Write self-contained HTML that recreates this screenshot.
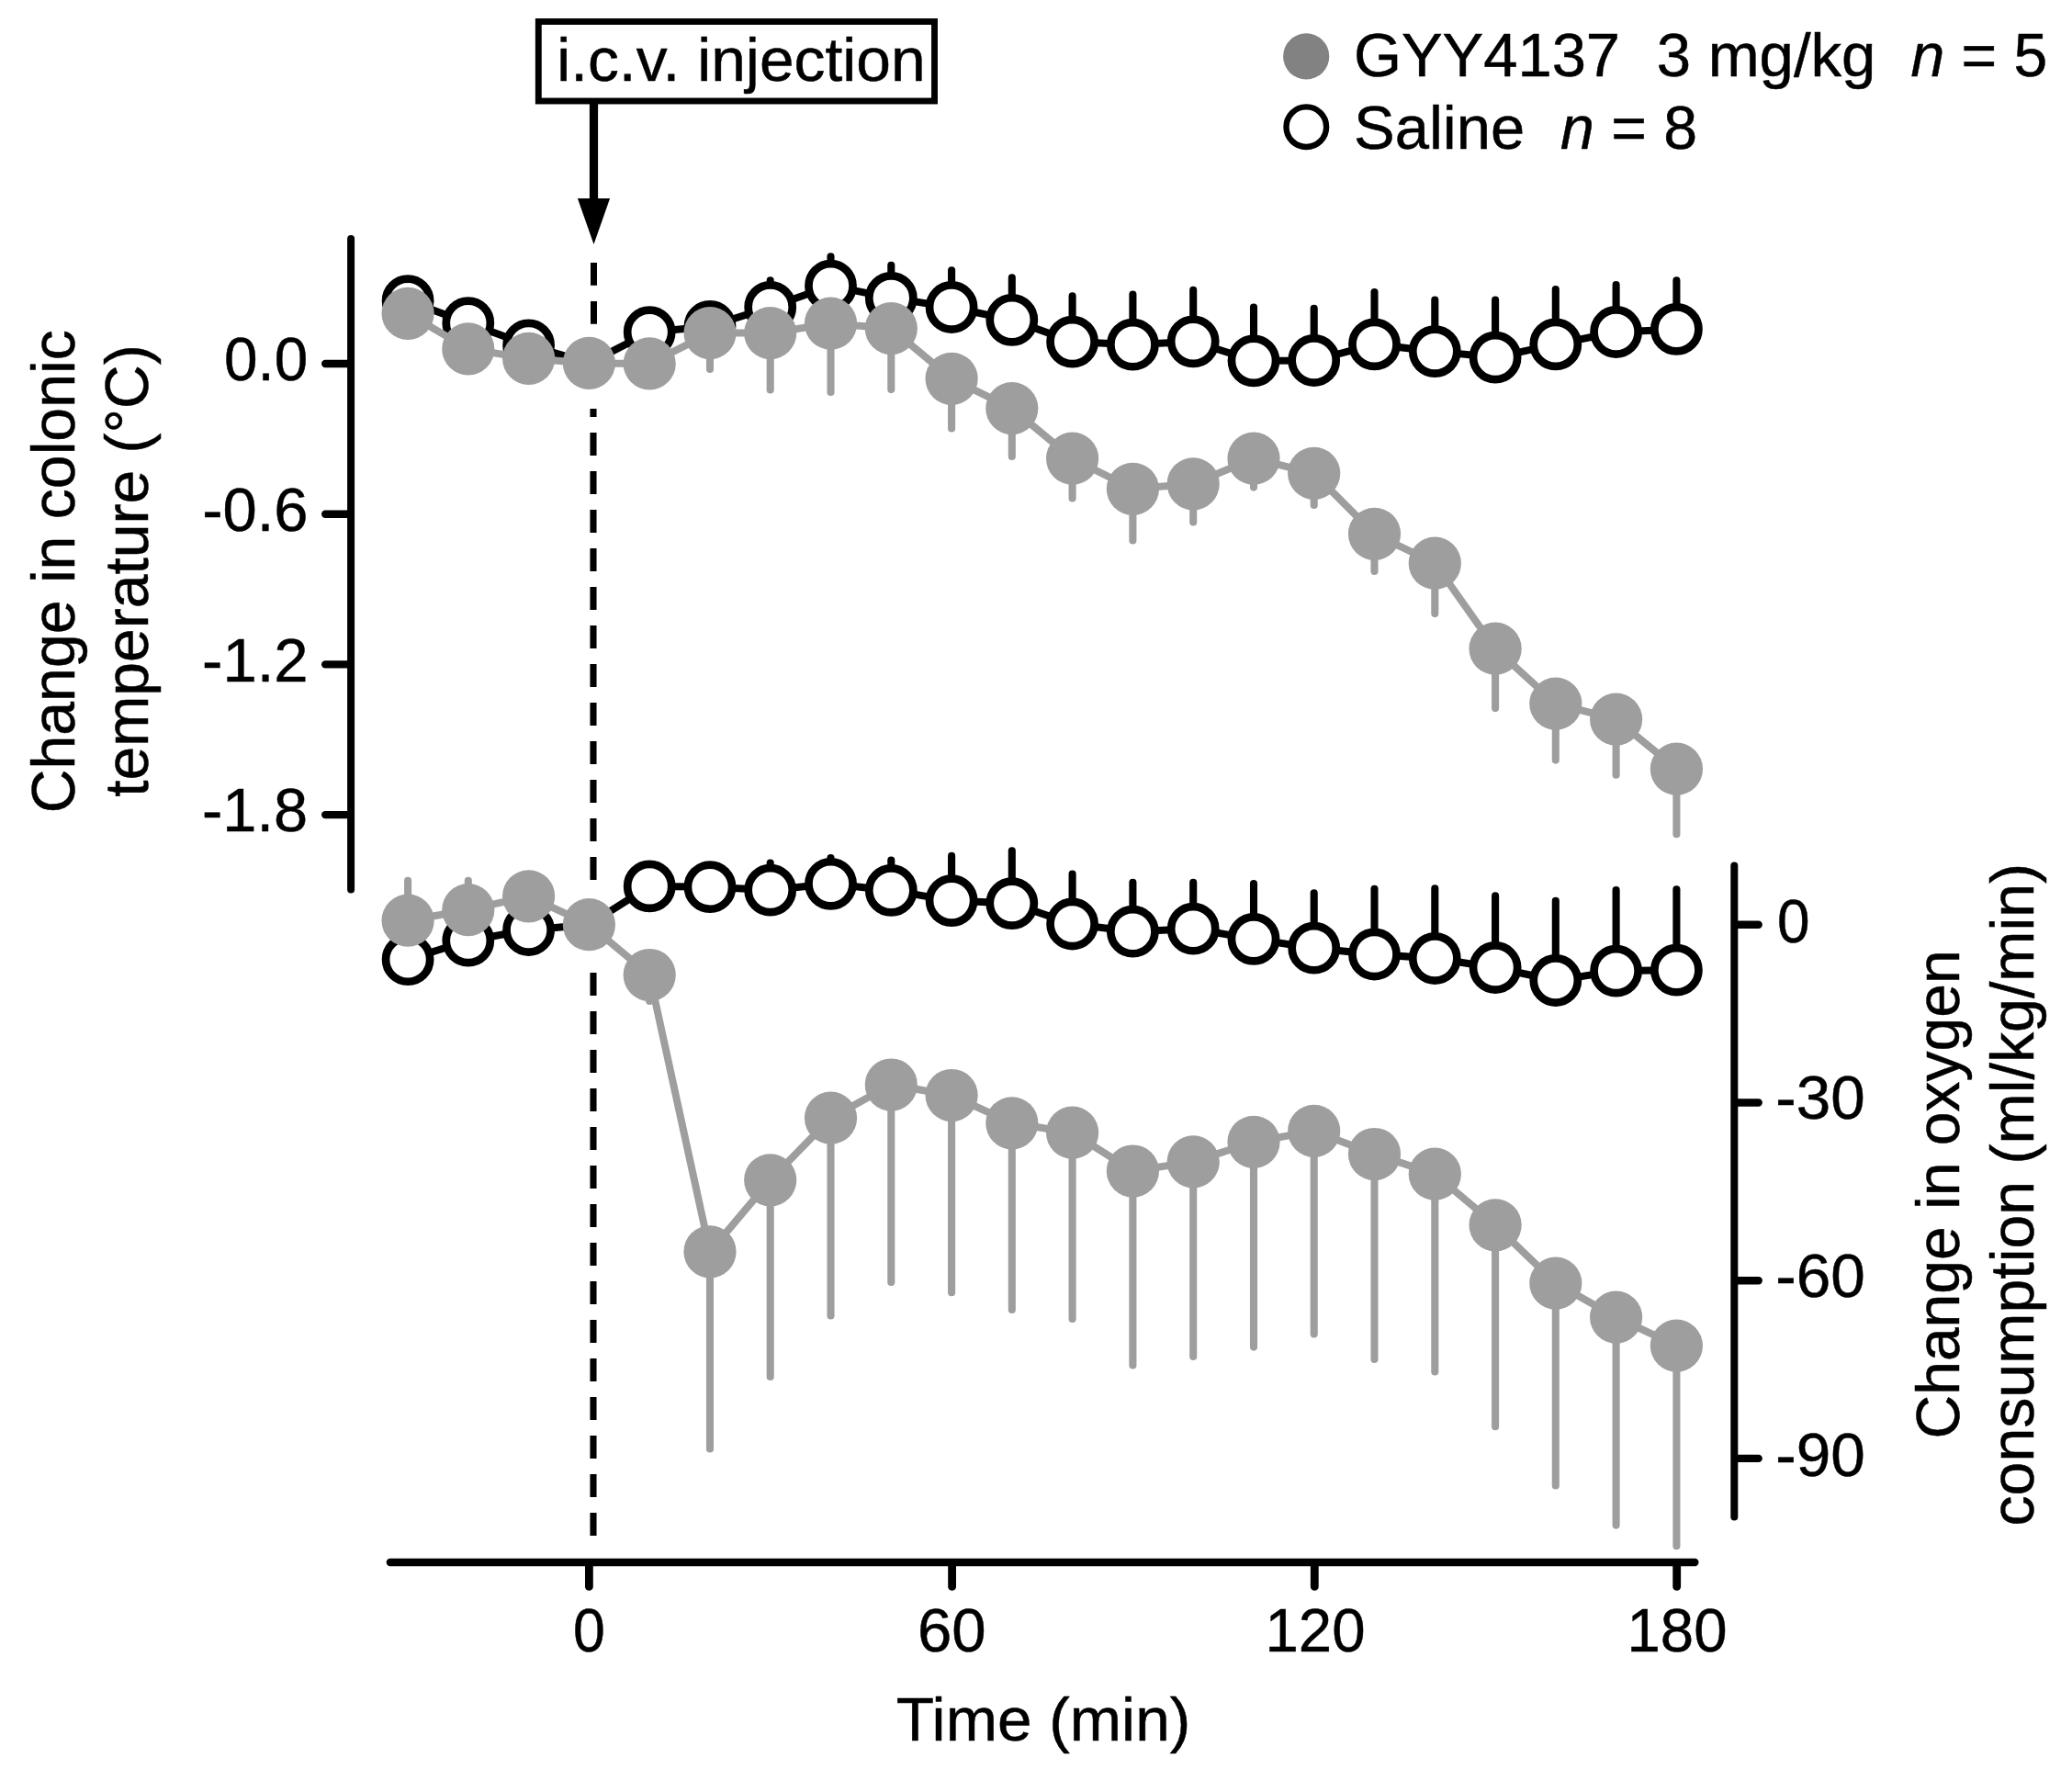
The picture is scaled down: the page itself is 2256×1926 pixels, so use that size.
<!DOCTYPE html>
<html lang="en"><head><meta charset="utf-8"><title>Figure</title>
<style>
html,body{margin:0;padding:0;background:#fff}
body{width:2256px;height:1926px;overflow:hidden}
svg{display:block}
text{font-family:"Liberation Sans",sans-serif;font-size:66.5px;fill:#000;stroke:#000;stroke-width:0.5px}
</style></head><body>
<svg width="2256" height="1926" viewBox="0 0 2256 1926">
<rect width="2256" height="1926" fill="#fff"/>
<line x1="646.5" y1="286" x2="646.5" y2="395" stroke="#000" stroke-width="7.0" stroke-dasharray="24.8 17.2"/>
<line x1="646.0" y1="1671.9" x2="646.0" y2="1058.5" stroke="#000" stroke-width="7.1" stroke-dasharray="25 17"/>
<line x1="646.0" y1="957.9" x2="646.0" y2="444.9" stroke="#000" stroke-width="7.1" stroke-dasharray="25 17"/>
<g stroke="#000" stroke-width="8.0" stroke-linecap="round" fill="none">
<line x1="382.1" y1="259.9" x2="382.1" y2="968.4"/>
<line x1="1888.3" y1="942.6" x2="1888.3" y2="1651.4"/>
<line x1="424.8" y1="1701" x2="1845.4" y2="1701" stroke-width="8.3"/>
</g><g stroke="#000" stroke-width="8.4" stroke-linecap="round" fill="none">
<line x1="354.2" y1="396.0" x2="381.0" y2="396.0"/>
<line x1="354.2" y1="559.7" x2="381.0" y2="559.7"/>
<line x1="354.2" y1="723.4" x2="381.0" y2="723.4"/>
<line x1="354.2" y1="887.1" x2="381.0" y2="887.1"/>
<line x1="1889.4" y1="1006.8" x2="1914.7" y2="1006.8"/>
<line x1="1889.4" y1="1200.5" x2="1914.7" y2="1200.5"/>
<line x1="1889.4" y1="1394.2" x2="1914.7" y2="1394.2"/>
<line x1="1889.4" y1="1587.9" x2="1914.7" y2="1587.9"/>
<line x1="641.4" y1="1702.2" x2="641.4" y2="1727.4" stroke-width="8.8"/>
<line x1="1036.6" y1="1702.2" x2="1036.6" y2="1727.4" stroke-width="8.8"/>
<line x1="1431.3" y1="1702.2" x2="1431.3" y2="1727.4" stroke-width="8.8"/>
<line x1="1825.7" y1="1702.2" x2="1825.7" y2="1727.4" stroke-width="8.8"/>
</g>
<line x1="838.7" y1="334.4" x2="838.7" y2="305.4" stroke="#000" stroke-width="8.1" stroke-linecap="round"/>
<line x1="904.5" y1="311.2" x2="904.5" y2="279.3" stroke="#000" stroke-width="8.1" stroke-linecap="round"/>
<line x1="970.3" y1="324.4" x2="970.3" y2="288.8" stroke="#000" stroke-width="8.1" stroke-linecap="round"/>
<line x1="1036.1" y1="334.5" x2="1036.1" y2="294.3" stroke="#000" stroke-width="8.1" stroke-linecap="round"/>
<line x1="1101.8" y1="348.3" x2="1101.8" y2="302.4" stroke="#000" stroke-width="8.1" stroke-linecap="round"/>
<line x1="1167.6" y1="372.1" x2="1167.6" y2="322.4" stroke="#000" stroke-width="8.1" stroke-linecap="round"/>
<line x1="1233.4" y1="375.2" x2="1233.4" y2="320.6" stroke="#000" stroke-width="8.1" stroke-linecap="round"/>
<line x1="1299.2" y1="371.8" x2="1299.2" y2="315.9" stroke="#000" stroke-width="8.1" stroke-linecap="round"/>
<line x1="1365.0" y1="392.8" x2="1365.0" y2="334.6" stroke="#000" stroke-width="8.1" stroke-linecap="round"/>
<line x1="1430.7" y1="392.5" x2="1430.7" y2="335.8" stroke="#000" stroke-width="8.1" stroke-linecap="round"/>
<line x1="1496.5" y1="374.9" x2="1496.5" y2="318.1" stroke="#000" stroke-width="8.1" stroke-linecap="round"/>
<line x1="1562.3" y1="382.6" x2="1562.3" y2="326.5" stroke="#000" stroke-width="8.1" stroke-linecap="round"/>
<line x1="1628.1" y1="389.1" x2="1628.1" y2="326.5" stroke="#000" stroke-width="8.1" stroke-linecap="round"/>
<line x1="1693.8" y1="374.9" x2="1693.8" y2="315.0" stroke="#000" stroke-width="8.1" stroke-linecap="round"/>
<line x1="1759.6" y1="361.5" x2="1759.6" y2="310.0" stroke="#000" stroke-width="8.1" stroke-linecap="round"/>
<line x1="1825.4" y1="358.4" x2="1825.4" y2="305.4" stroke="#000" stroke-width="8.1" stroke-linecap="round"/>
<polyline points="444.1,327.6 509.8,351.7 575.6,375.9 641.4,395.4 707.2,361.6 773.0,355.3 838.7,334.4 904.5,311.2 970.3,324.4 1036.1,334.5 1101.8,348.3 1167.6,372.1 1233.4,375.2 1299.2,371.8 1365.0,392.8 1430.7,392.5 1496.5,374.9 1562.3,382.6 1628.1,389.1 1693.8,374.9 1759.6,361.5 1825.4,358.4" fill="none" stroke="#000" stroke-width="8.0" stroke-linejoin="round"/>
<circle cx="444.1" cy="327.6" r="24.05" fill="#fff" stroke="#000" stroke-width="8.7"/>
<circle cx="509.8" cy="351.7" r="24.05" fill="#fff" stroke="#000" stroke-width="8.7"/>
<circle cx="575.6" cy="375.9" r="24.05" fill="#fff" stroke="#000" stroke-width="8.7"/>
<circle cx="707.2" cy="361.6" r="24.05" fill="#fff" stroke="#000" stroke-width="8.7"/>
<circle cx="773.0" cy="355.3" r="24.05" fill="#fff" stroke="#000" stroke-width="8.7"/>
<circle cx="838.7" cy="334.4" r="24.05" fill="#fff" stroke="#000" stroke-width="8.7"/>
<circle cx="904.5" cy="311.2" r="24.05" fill="#fff" stroke="#000" stroke-width="8.7"/>
<circle cx="970.3" cy="324.4" r="24.05" fill="#fff" stroke="#000" stroke-width="8.7"/>
<circle cx="1036.1" cy="334.5" r="24.05" fill="#fff" stroke="#000" stroke-width="8.7"/>
<circle cx="1101.8" cy="348.3" r="24.05" fill="#fff" stroke="#000" stroke-width="8.7"/>
<circle cx="1167.6" cy="372.1" r="24.05" fill="#fff" stroke="#000" stroke-width="8.7"/>
<circle cx="1233.4" cy="375.2" r="24.05" fill="#fff" stroke="#000" stroke-width="8.7"/>
<circle cx="1299.2" cy="371.8" r="24.05" fill="#fff" stroke="#000" stroke-width="8.7"/>
<circle cx="1365.0" cy="392.8" r="24.05" fill="#fff" stroke="#000" stroke-width="8.7"/>
<circle cx="1430.7" cy="392.5" r="24.05" fill="#fff" stroke="#000" stroke-width="8.7"/>
<circle cx="1496.5" cy="374.9" r="24.05" fill="#fff" stroke="#000" stroke-width="8.7"/>
<circle cx="1562.3" cy="382.6" r="24.05" fill="#fff" stroke="#000" stroke-width="8.7"/>
<circle cx="1628.1" cy="389.1" r="24.05" fill="#fff" stroke="#000" stroke-width="8.7"/>
<circle cx="1693.8" cy="374.9" r="24.05" fill="#fff" stroke="#000" stroke-width="8.7"/>
<circle cx="1759.6" cy="361.5" r="24.05" fill="#fff" stroke="#000" stroke-width="8.7"/>
<circle cx="1825.4" cy="358.4" r="24.05" fill="#fff" stroke="#000" stroke-width="8.7"/>
<line x1="773.0" y1="362.6" x2="773.0" y2="401.9" stroke="#9e9e9e" stroke-width="8.1" stroke-linecap="round"/>
<line x1="838.7" y1="362.6" x2="838.7" y2="424.4" stroke="#9e9e9e" stroke-width="8.1" stroke-linecap="round"/>
<line x1="904.5" y1="352.2" x2="904.5" y2="426.9" stroke="#9e9e9e" stroke-width="8.1" stroke-linecap="round"/>
<line x1="970.3" y1="357.6" x2="970.3" y2="424.1" stroke="#9e9e9e" stroke-width="8.1" stroke-linecap="round"/>
<line x1="1036.1" y1="412.3" x2="1036.1" y2="466.5" stroke="#9e9e9e" stroke-width="8.1" stroke-linecap="round"/>
<line x1="1101.8" y1="444.6" x2="1101.8" y2="496.9" stroke="#9e9e9e" stroke-width="8.1" stroke-linecap="round"/>
<line x1="1167.6" y1="499.2" x2="1167.6" y2="542.4" stroke="#9e9e9e" stroke-width="8.1" stroke-linecap="round"/>
<line x1="1233.4" y1="532.3" x2="1233.4" y2="588.4" stroke="#9e9e9e" stroke-width="8.1" stroke-linecap="round"/>
<line x1="1299.2" y1="526.8" x2="1299.2" y2="568.4" stroke="#9e9e9e" stroke-width="8.1" stroke-linecap="round"/>
<line x1="1365.0" y1="499.2" x2="1365.0" y2="530.6" stroke="#9e9e9e" stroke-width="8.1" stroke-linecap="round"/>
<line x1="1430.7" y1="515.4" x2="1430.7" y2="550.0" stroke="#9e9e9e" stroke-width="8.1" stroke-linecap="round"/>
<line x1="1496.5" y1="581.3" x2="1496.5" y2="622.0" stroke="#9e9e9e" stroke-width="8.1" stroke-linecap="round"/>
<line x1="1562.3" y1="613.2" x2="1562.3" y2="668.1" stroke="#9e9e9e" stroke-width="8.1" stroke-linecap="round"/>
<line x1="1628.1" y1="706.2" x2="1628.1" y2="771.1" stroke="#9e9e9e" stroke-width="8.1" stroke-linecap="round"/>
<line x1="1693.8" y1="766.1" x2="1693.8" y2="827.6" stroke="#9e9e9e" stroke-width="8.1" stroke-linecap="round"/>
<line x1="1759.6" y1="783.1" x2="1759.6" y2="843.8" stroke="#9e9e9e" stroke-width="8.1" stroke-linecap="round"/>
<line x1="1825.4" y1="837.2" x2="1825.4" y2="908.2" stroke="#9e9e9e" stroke-width="8.1" stroke-linecap="round"/>
<polyline points="444.1,341.3 509.8,379.9 575.6,390.3 641.4,395.4 707.2,395.9 773.0,362.6 838.7,362.6 904.5,352.2 970.3,357.6 1036.1,412.3 1101.8,444.6 1167.6,499.2 1233.4,532.3 1299.2,526.8 1365.0,499.2 1430.7,515.4 1496.5,581.3 1562.3,613.2 1628.1,706.2 1693.8,766.1 1759.6,783.1 1825.4,837.2" fill="none" stroke="#9e9e9e" stroke-width="8.0" stroke-linejoin="round"/>
<circle cx="444.1" cy="341.3" r="28.6" fill="#9e9e9e"/>
<circle cx="509.8" cy="379.9" r="28.6" fill="#9e9e9e"/>
<circle cx="575.6" cy="390.3" r="28.6" fill="#9e9e9e"/>
<circle cx="641.4" cy="395.4" r="28.6" fill="#9e9e9e"/>
<circle cx="707.2" cy="395.9" r="28.6" fill="#9e9e9e"/>
<circle cx="773.0" cy="362.6" r="28.6" fill="#9e9e9e"/>
<circle cx="838.7" cy="362.6" r="28.6" fill="#9e9e9e"/>
<circle cx="904.5" cy="352.2" r="28.6" fill="#9e9e9e"/>
<circle cx="970.3" cy="357.6" r="28.6" fill="#9e9e9e"/>
<circle cx="1036.1" cy="412.3" r="28.6" fill="#9e9e9e"/>
<circle cx="1101.8" cy="444.6" r="28.6" fill="#9e9e9e"/>
<circle cx="1167.6" cy="499.2" r="28.6" fill="#9e9e9e"/>
<circle cx="1233.4" cy="532.3" r="28.6" fill="#9e9e9e"/>
<circle cx="1299.2" cy="526.8" r="28.6" fill="#9e9e9e"/>
<circle cx="1365.0" cy="499.2" r="28.6" fill="#9e9e9e"/>
<circle cx="1430.7" cy="515.4" r="28.6" fill="#9e9e9e"/>
<circle cx="1496.5" cy="581.3" r="28.6" fill="#9e9e9e"/>
<circle cx="1562.3" cy="613.2" r="28.6" fill="#9e9e9e"/>
<circle cx="1628.1" cy="706.2" r="28.6" fill="#9e9e9e"/>
<circle cx="1693.8" cy="766.1" r="28.6" fill="#9e9e9e"/>
<circle cx="1759.6" cy="783.1" r="28.6" fill="#9e9e9e"/>
<circle cx="1825.4" cy="837.2" r="28.6" fill="#9e9e9e"/>
<line x1="838.7" y1="969.1" x2="838.7" y2="939.6" stroke="#000" stroke-width="8.1" stroke-linecap="round"/>
<line x1="904.5" y1="962.3" x2="904.5" y2="934.1" stroke="#000" stroke-width="8.1" stroke-linecap="round"/>
<line x1="970.3" y1="969.4" x2="970.3" y2="936.6" stroke="#000" stroke-width="8.1" stroke-linecap="round"/>
<line x1="1036.1" y1="980.6" x2="1036.1" y2="931.9" stroke="#000" stroke-width="8.1" stroke-linecap="round"/>
<line x1="1101.8" y1="983.6" x2="1101.8" y2="926.2" stroke="#000" stroke-width="8.1" stroke-linecap="round"/>
<line x1="1167.6" y1="1006.0" x2="1167.6" y2="951.6" stroke="#000" stroke-width="8.1" stroke-linecap="round"/>
<line x1="1233.4" y1="1014.2" x2="1233.4" y2="960.9" stroke="#000" stroke-width="8.1" stroke-linecap="round"/>
<line x1="1299.2" y1="1011.2" x2="1299.2" y2="960.9" stroke="#000" stroke-width="8.1" stroke-linecap="round"/>
<line x1="1365.0" y1="1022.4" x2="1365.0" y2="962.1" stroke="#000" stroke-width="8.1" stroke-linecap="round"/>
<line x1="1430.7" y1="1032.2" x2="1430.7" y2="972.2" stroke="#000" stroke-width="8.1" stroke-linecap="round"/>
<line x1="1496.5" y1="1039.0" x2="1496.5" y2="967.8" stroke="#000" stroke-width="8.1" stroke-linecap="round"/>
<line x1="1562.3" y1="1043.5" x2="1562.3" y2="967.4" stroke="#000" stroke-width="8.1" stroke-linecap="round"/>
<line x1="1628.1" y1="1053.5" x2="1628.1" y2="975.4" stroke="#000" stroke-width="8.1" stroke-linecap="round"/>
<line x1="1693.8" y1="1067.5" x2="1693.8" y2="980.9" stroke="#000" stroke-width="8.1" stroke-linecap="round"/>
<line x1="1759.6" y1="1057.1" x2="1759.6" y2="969.1" stroke="#000" stroke-width="8.1" stroke-linecap="round"/>
<line x1="1825.4" y1="1056.2" x2="1825.4" y2="968.2" stroke="#000" stroke-width="8.1" stroke-linecap="round"/>
<polyline points="444.1,1044.7 509.8,1024.1 575.6,1012.5 641.4,1006.7 707.2,964.9 773.0,965.7 838.7,969.1 904.5,962.3 970.3,969.4 1036.1,980.6 1101.8,983.6 1167.6,1006.0 1233.4,1014.2 1299.2,1011.2 1365.0,1022.4 1430.7,1032.2 1496.5,1039.0 1562.3,1043.5 1628.1,1053.5 1693.8,1067.5 1759.6,1057.1 1825.4,1056.2" fill="none" stroke="#000" stroke-width="8.0" stroke-linejoin="round"/>
<circle cx="444.1" cy="1044.7" r="24.05" fill="#fff" stroke="#000" stroke-width="8.7"/>
<circle cx="509.8" cy="1024.1" r="24.05" fill="#fff" stroke="#000" stroke-width="8.7"/>
<circle cx="575.6" cy="1012.5" r="24.05" fill="#fff" stroke="#000" stroke-width="8.7"/>
<circle cx="707.2" cy="964.9" r="24.05" fill="#fff" stroke="#000" stroke-width="8.7"/>
<circle cx="773.0" cy="965.7" r="24.05" fill="#fff" stroke="#000" stroke-width="8.7"/>
<circle cx="838.7" cy="969.1" r="24.05" fill="#fff" stroke="#000" stroke-width="8.7"/>
<circle cx="904.5" cy="962.3" r="24.05" fill="#fff" stroke="#000" stroke-width="8.7"/>
<circle cx="970.3" cy="969.4" r="24.05" fill="#fff" stroke="#000" stroke-width="8.7"/>
<circle cx="1036.1" cy="980.6" r="24.05" fill="#fff" stroke="#000" stroke-width="8.7"/>
<circle cx="1101.8" cy="983.6" r="24.05" fill="#fff" stroke="#000" stroke-width="8.7"/>
<circle cx="1167.6" cy="1006.0" r="24.05" fill="#fff" stroke="#000" stroke-width="8.7"/>
<circle cx="1233.4" cy="1014.2" r="24.05" fill="#fff" stroke="#000" stroke-width="8.7"/>
<circle cx="1299.2" cy="1011.2" r="24.05" fill="#fff" stroke="#000" stroke-width="8.7"/>
<circle cx="1365.0" cy="1022.4" r="24.05" fill="#fff" stroke="#000" stroke-width="8.7"/>
<circle cx="1430.7" cy="1032.2" r="24.05" fill="#fff" stroke="#000" stroke-width="8.7"/>
<circle cx="1496.5" cy="1039.0" r="24.05" fill="#fff" stroke="#000" stroke-width="8.7"/>
<circle cx="1562.3" cy="1043.5" r="24.05" fill="#fff" stroke="#000" stroke-width="8.7"/>
<circle cx="1628.1" cy="1053.5" r="24.05" fill="#fff" stroke="#000" stroke-width="8.7"/>
<circle cx="1693.8" cy="1067.5" r="24.05" fill="#fff" stroke="#000" stroke-width="8.7"/>
<circle cx="1759.6" cy="1057.1" r="24.05" fill="#fff" stroke="#000" stroke-width="8.7"/>
<circle cx="1825.4" cy="1056.2" r="24.05" fill="#fff" stroke="#000" stroke-width="8.7"/>
<line x1="444.1" y1="1002.2" x2="444.1" y2="958.9" stroke="#9e9e9e" stroke-width="8.1" stroke-linecap="round"/>
<line x1="509.8" y1="990.6" x2="509.8" y2="958.9" stroke="#9e9e9e" stroke-width="8.1" stroke-linecap="round"/>
<line x1="707.2" y1="1061.5" x2="707.2" y2="1090.0" stroke="#9e9e9e" stroke-width="8.1" stroke-linecap="round"/>
<line x1="773.0" y1="1362.8" x2="773.0" y2="1577.5" stroke="#9e9e9e" stroke-width="8.1" stroke-linecap="round"/>
<line x1="838.7" y1="1284.8" x2="838.7" y2="1499.0" stroke="#9e9e9e" stroke-width="8.1" stroke-linecap="round"/>
<line x1="904.5" y1="1217.2" x2="904.5" y2="1432.4" stroke="#9e9e9e" stroke-width="8.1" stroke-linecap="round"/>
<line x1="970.3" y1="1181.0" x2="970.3" y2="1396.0" stroke="#9e9e9e" stroke-width="8.1" stroke-linecap="round"/>
<line x1="1036.1" y1="1192.5" x2="1036.1" y2="1407.2" stroke="#9e9e9e" stroke-width="8.1" stroke-linecap="round"/>
<line x1="1101.8" y1="1222.8" x2="1101.8" y2="1425.9" stroke="#9e9e9e" stroke-width="8.1" stroke-linecap="round"/>
<line x1="1167.6" y1="1233.2" x2="1167.6" y2="1436.0" stroke="#9e9e9e" stroke-width="8.1" stroke-linecap="round"/>
<line x1="1233.4" y1="1275.0" x2="1233.4" y2="1486.4" stroke="#9e9e9e" stroke-width="8.1" stroke-linecap="round"/>
<line x1="1299.2" y1="1264.9" x2="1299.2" y2="1477.0" stroke="#9e9e9e" stroke-width="8.1" stroke-linecap="round"/>
<line x1="1365.0" y1="1243.3" x2="1365.0" y2="1466.6" stroke="#9e9e9e" stroke-width="8.1" stroke-linecap="round"/>
<line x1="1430.7" y1="1231.4" x2="1430.7" y2="1452.4" stroke="#9e9e9e" stroke-width="8.1" stroke-linecap="round"/>
<line x1="1496.5" y1="1256.5" x2="1496.5" y2="1480.0" stroke="#9e9e9e" stroke-width="8.1" stroke-linecap="round"/>
<line x1="1562.3" y1="1278.2" x2="1562.3" y2="1493.5" stroke="#9e9e9e" stroke-width="8.1" stroke-linecap="round"/>
<line x1="1628.1" y1="1333.8" x2="1628.1" y2="1553.3" stroke="#9e9e9e" stroke-width="8.1" stroke-linecap="round"/>
<line x1="1693.8" y1="1397.1" x2="1693.8" y2="1617.4" stroke="#9e9e9e" stroke-width="8.1" stroke-linecap="round"/>
<line x1="1759.6" y1="1434.1" x2="1759.6" y2="1660.6" stroke="#9e9e9e" stroke-width="8.1" stroke-linecap="round"/>
<line x1="1825.4" y1="1465.1" x2="1825.4" y2="1683.3" stroke="#9e9e9e" stroke-width="8.1" stroke-linecap="round"/>
<polyline points="444.1,1002.2 509.8,990.6 575.6,975.8 641.4,1006.7 707.2,1061.5 773.0,1362.8 838.7,1284.8 904.5,1217.2 970.3,1181.0 1036.1,1192.5 1101.8,1222.8 1167.6,1233.2 1233.4,1275.0 1299.2,1264.9 1365.0,1243.3 1430.7,1231.4 1496.5,1256.5 1562.3,1278.2 1628.1,1333.8 1693.8,1397.1 1759.6,1434.1 1825.4,1465.1" fill="none" stroke="#9e9e9e" stroke-width="8.0" stroke-linejoin="round"/>
<circle cx="444.1" cy="1002.2" r="28.6" fill="#9e9e9e"/>
<circle cx="509.8" cy="990.6" r="28.6" fill="#9e9e9e"/>
<circle cx="575.6" cy="975.8" r="28.6" fill="#9e9e9e"/>
<circle cx="641.4" cy="1006.7" r="28.6" fill="#9e9e9e"/>
<circle cx="707.2" cy="1061.5" r="28.6" fill="#9e9e9e"/>
<circle cx="773.0" cy="1362.8" r="28.6" fill="#9e9e9e"/>
<circle cx="838.7" cy="1284.8" r="28.6" fill="#9e9e9e"/>
<circle cx="904.5" cy="1217.2" r="28.6" fill="#9e9e9e"/>
<circle cx="970.3" cy="1181.0" r="28.6" fill="#9e9e9e"/>
<circle cx="1036.1" cy="1192.5" r="28.6" fill="#9e9e9e"/>
<circle cx="1101.8" cy="1222.8" r="28.6" fill="#9e9e9e"/>
<circle cx="1167.6" cy="1233.2" r="28.6" fill="#9e9e9e"/>
<circle cx="1233.4" cy="1275.0" r="28.6" fill="#9e9e9e"/>
<circle cx="1299.2" cy="1264.9" r="28.6" fill="#9e9e9e"/>
<circle cx="1365.0" cy="1243.3" r="28.6" fill="#9e9e9e"/>
<circle cx="1430.7" cy="1231.4" r="28.6" fill="#9e9e9e"/>
<circle cx="1496.5" cy="1256.5" r="28.6" fill="#9e9e9e"/>
<circle cx="1562.3" cy="1278.2" r="28.6" fill="#9e9e9e"/>
<circle cx="1628.1" cy="1333.8" r="28.6" fill="#9e9e9e"/>
<circle cx="1693.8" cy="1397.1" r="28.6" fill="#9e9e9e"/>
<circle cx="1759.6" cy="1434.1" r="28.6" fill="#9e9e9e"/>
<circle cx="1825.4" cy="1465.1" r="28.6" fill="#9e9e9e"/>
<rect x="586.3" y="23.5" width="431.2" height="86.5" fill="#fff" stroke="#000" stroke-width="6.9"/>
<line x1="646.5" y1="113" x2="646.5" y2="220" stroke="#000" stroke-width="9.2"/>
<polygon points="628.9,216 664.1,216 646.5,266" fill="#000"/>
<circle cx="1422.2" cy="61.4" r="25.1" fill="#828282"/>
<circle cx="1422.3" cy="138.2" r="21.8" fill="#fff" stroke="#000" stroke-width="6.4"/>
<text transform="translate(606.13 87.6) scale(1.0185 1)">i.c.v. injection</text>
<text transform="translate(1473.98 83.1) scale(1.0061 1)">GYY4137</text>
<text transform="translate(1803.68 83.1) scale(1.0096 1)">3 mg/kg</text>
<text transform="translate(2080.46 83.1) scale(0.9944 1)"><tspan font-style="italic">n</tspan> = 5</text>
<text transform="translate(1474.06 161.7) scale(1.0068 1)">Saline</text>
<text transform="translate(1699.06 161.7) scale(0.9959 1)"><tspan font-style="italic">n</tspan> = 8</text>
<text transform="translate(975.83 1894.8) scale(1.0165 1)">Time (min)</text>
<text transform="translate(243.93 414.4) scale(0.9874 1)">0.0</text>
<text transform="translate(220.21 577.6) scale(1.0062 1)">-0.6</text>
<text transform="translate(220.10 741.7) scale(1.0083 1)">-1.2</text>
<text transform="translate(220.12 905.4) scale(1.0034 1)">-1.8</text>
<text transform="translate(1934.98 1026.0) scale(0.9606 1)">0</text>
<text transform="translate(1933.29 1218.4) scale(1.0129 1)">-30</text>
<text transform="translate(1933.18 1411.8) scale(1.0161 1)">-60</text>
<text transform="translate(1933.18 1606.9) scale(1.0161 1)">-90</text>
<text transform="translate(624.02 1798.0) scale(0.9424 1)">0</text>
<text transform="translate(998.97 1798.0) scale(1.0101 1)">60</text>
<text transform="translate(1377.47 1798.0) scale(0.9828 1)">120</text>
<text transform="translate(1771.47 1798.0) scale(0.9828 1)">180</text>
<text transform="translate(81.3 885.29) rotate(-90) scale(0.9953 1)">Change in colonic</text>
<text transform="translate(161.0 867.84) rotate(-90) scale(0.9932 1)">temperature (°C)</text>
<text transform="translate(2132.9 1566.48) rotate(-90) scale(0.9926 1)">Change in oxygen</text>
<text transform="translate(2213.9 1661.60) rotate(-90) scale(0.9967 1)">consumption (ml/kg/min)</text>
</svg></body></html>
